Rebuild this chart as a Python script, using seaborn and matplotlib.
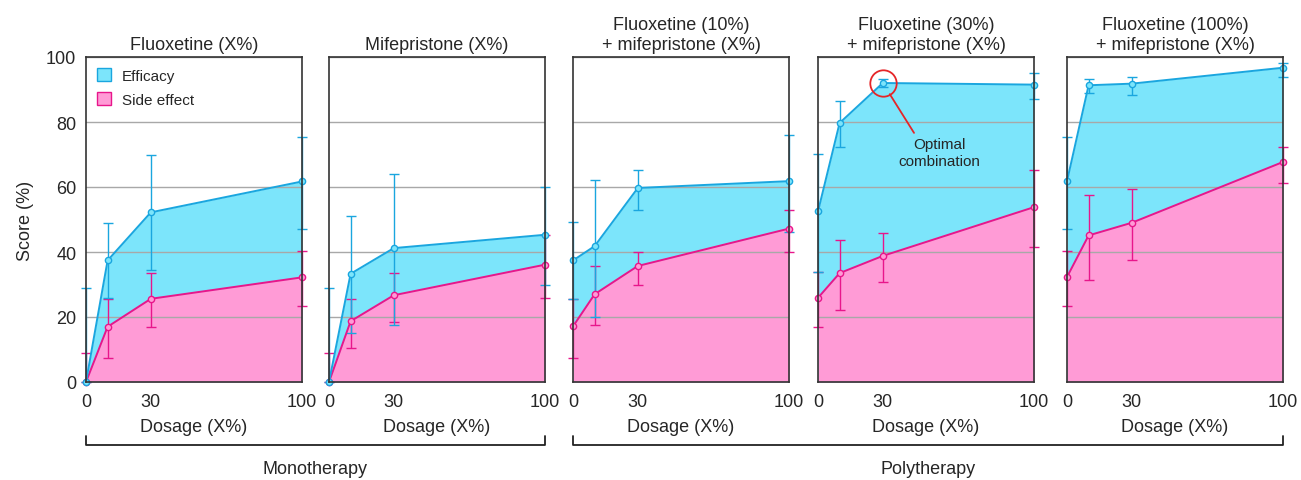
import seaborn as sns
import matplotlib.pyplot as plt
import numpy as np
from matplotlib.patches import Patch
from matplotlib.lines import Line2D


# Dosis na x-osi
dose = [0, 10, 30, 100]
dose_ticks = [0, 30, 100]
score_ticks = [0, 20, 40, 60, 80, 100]

titles = [
    "Fluoxetine (X%)",
    "Mifepristone (X%)",
    "Fluoxetine (10%)\n+ mifepristone (X%)",
    "Fluoxetine (30%)\n+ mifepristone (X%)",
    "Fluoxetine (100%)\n+ mifepristone (X%)",
]

# Efficacy (srednja vrijednost, donja i gornja granica)
efficacy = [
    [0, 37.4, 52.2, 61.7],
    [0, 33.3, 41.2, 45.3],
    [37.4, 41.8, 59.7, 61.8],
    [52.5, 79.7, 92.0, 91.5],
    [61.8, 91.3, 91.8, 96.7],
]
efficacy_lo = [
    [0, 25.8, 34.4, 47.2],
    [0, 15.1, 17.6, 29.7],
    [25.6, 20.0, 53.0, 46.2],
    [33.8, 72.4, 90.8, 87.2],
    [47.2, 89.0, 88.2, 93.8],
]
efficacy_hi = [
    [28.9, 49.0, 70.0, 75.3],
    [28.9, 51.1, 63.9, 60.0],
    [49.2, 62.1, 65.1, 76.1],
    [70.2, 86.4, 93.1, 95.2],
    [75.5, 93.1, 93.8, 98.2],
]

# Side effect
side = [
    [0, 17.0, 25.6, 32.2],
    [0, 18.7, 26.7, 36.1],
    [17.1, 27.0, 35.7, 47.2],
    [25.9, 33.5, 38.8, 53.8],
    [32.3, 45.1, 49.0, 67.7],
]
side_lo = [
    [0, 7.4, 16.9, 23.4],
    [0, 10.5, 18.5, 25.9],
    [7.4, 17.4, 29.9, 40.0],
    [16.9, 22.3, 30.7, 41.5],
    [23.4, 31.3, 37.4, 61.2],
]
side_hi = [
    [8.9, 25.4, 33.6, 40.3],
    [8.9, 25.4, 33.5, 45.3],
    [25.4, 35.6, 40.0, 52.9],
    [33.8, 43.6, 45.7, 65.1],
    [40.3, 57.4, 59.3, 72.3],
]

groups = ["Monotherapy", "Polytherapy"]
group_panels = [(0, 1), (2, 4)]

# optimalna kombinacija: panel 4, doza 30
opt_panel = 3
opt_idx = 2

eff_fill, eff_line = "#7ce5fb", "#1aa6df"
side_fill, side_line = "#ff9bd6", "#e8168b"
red = "#e52528"

sns.set_theme(style="white")
plt.rcParams["font.family"] = ["Liberation Sans", "DejaVu Sans"]

W, H = 1301, 481
fig = plt.figure(figsize=(W / 100, H / 100), dpi=100)

lefts = [86, 329, 573, 818, 1067]
pw = 216
axes = []
for i, left in enumerate(lefts):
    ax = fig.add_axes([left / W, (H - 383) / H, pw / W, 325 / H])
    axes.append(ax)

    ax.fill_between(dose, efficacy[i], 0, color=eff_fill, lw=0, zorder=1)
    ax.fill_between(dose, side[i], 0, color=side_fill, lw=0, zorder=1.5)

    for vals, lo, hi, col, fc, z in [
        (side[i], side_lo[i], side_hi[i], side_line, side_fill, 4),
        (efficacy[i], efficacy_lo[i], efficacy_hi[i], eff_line, eff_fill, 4.2),
    ]:
        v = np.array(vals)
        yerr = [v - np.array(lo), np.array(hi) - v]
        eb = ax.errorbar(dose, v, yerr=yerr, fmt="none", ecolor=col,
                         elinewidth=1, capsize=3.5, capthick=1, zorder=3)
        for art in eb.get_children():
            art.set_clip_on(False)
        sns.lineplot(x=dose, y=vals, ax=ax, color=col, lw=1.4, marker="o",
                     markersize=4.5, markerfacecolor=fc, markeredgecolor=col,
                     markeredgewidth=1, errorbar=None, zorder=z, clip_on=False)

    ax.set_xlim(0, 100)
    ax.set_ylim(0, 100)
    ax.set_xticks(dose_ticks)
    ax.set_yticks(score_ticks)
    ax.yaxis.grid(True, color="#a8a8a8", lw=1)
    ax.set_axisbelow(False)
    ax.tick_params(length=0, labelsize=13)
    ax.tick_params(axis="x", pad=8)
    ax.tick_params(axis="y", pad=7)
    if i > 0:
        ax.set_yticklabels([])
    for sp in ax.spines.values():
        sp.set_color("#333333")
        sp.set_linewidth(1.2)
        sp.set_zorder(5)
    ax.set_title(titles[i], fontsize=13, pad=6)
    ax.set_xlabel("Dosage (X%)", fontsize=13, labelpad=6)

axes[0].set_ylabel("Score (%)", fontsize=13, labelpad=9)

# Legenda
handles = [
    Patch(facecolor=eff_fill, edgecolor=eff_line, lw=1, label="Efficacy"),
    Patch(facecolor=side_fill, edgecolor=side_line, lw=1, label="Side effect"),
]
axes[0].legend(handles=handles, loc="upper left", frameon=False, fontsize=11,
               handlelength=0.9, handleheight=0.9, handletextpad=0.7,
               labelspacing=0.6, borderaxespad=0.35)

# Optimalna kombinacija
ax4 = axes[opt_panel]
ox, oy = dose[opt_idx], efficacy[opt_panel][opt_idx]
ax4.plot(ox, oy, marker="o", ms=19, mfc="none", mec=red, mew=1.3,
         clip_on=False, zorder=6)
ax4.annotate("Optimal\ncombination", xy=(ox, oy), xytext=(41, -50),
             textcoords="offset points", ha="center", va="center", fontsize=11,
             arrowprops=dict(arrowstyle="-", color=red, lw=1.3, shrinkA=1,
                             shrinkB=9.5, relpos=(0.22, 1.0)))

# Zagrade ispod grupa
y_bar = (H - 446) / H
y_tip = (H - 437) / H
for name, (a, b) in zip(groups, group_panels):
    x0 = axes[a].get_position().x0
    x1 = axes[b].get_position().x1
    fig.add_artist(Line2D([x0, x0, x1, x1], [y_tip, y_bar, y_bar, y_tip],
                          color="#222222", lw=1.3, transform=fig.transFigure))
    fig.text((x0 + x1) / 2, (H - 470) / H, name, ha="center", va="center",
             fontsize=13)

fig.savefig("out.png", dpi=100)
